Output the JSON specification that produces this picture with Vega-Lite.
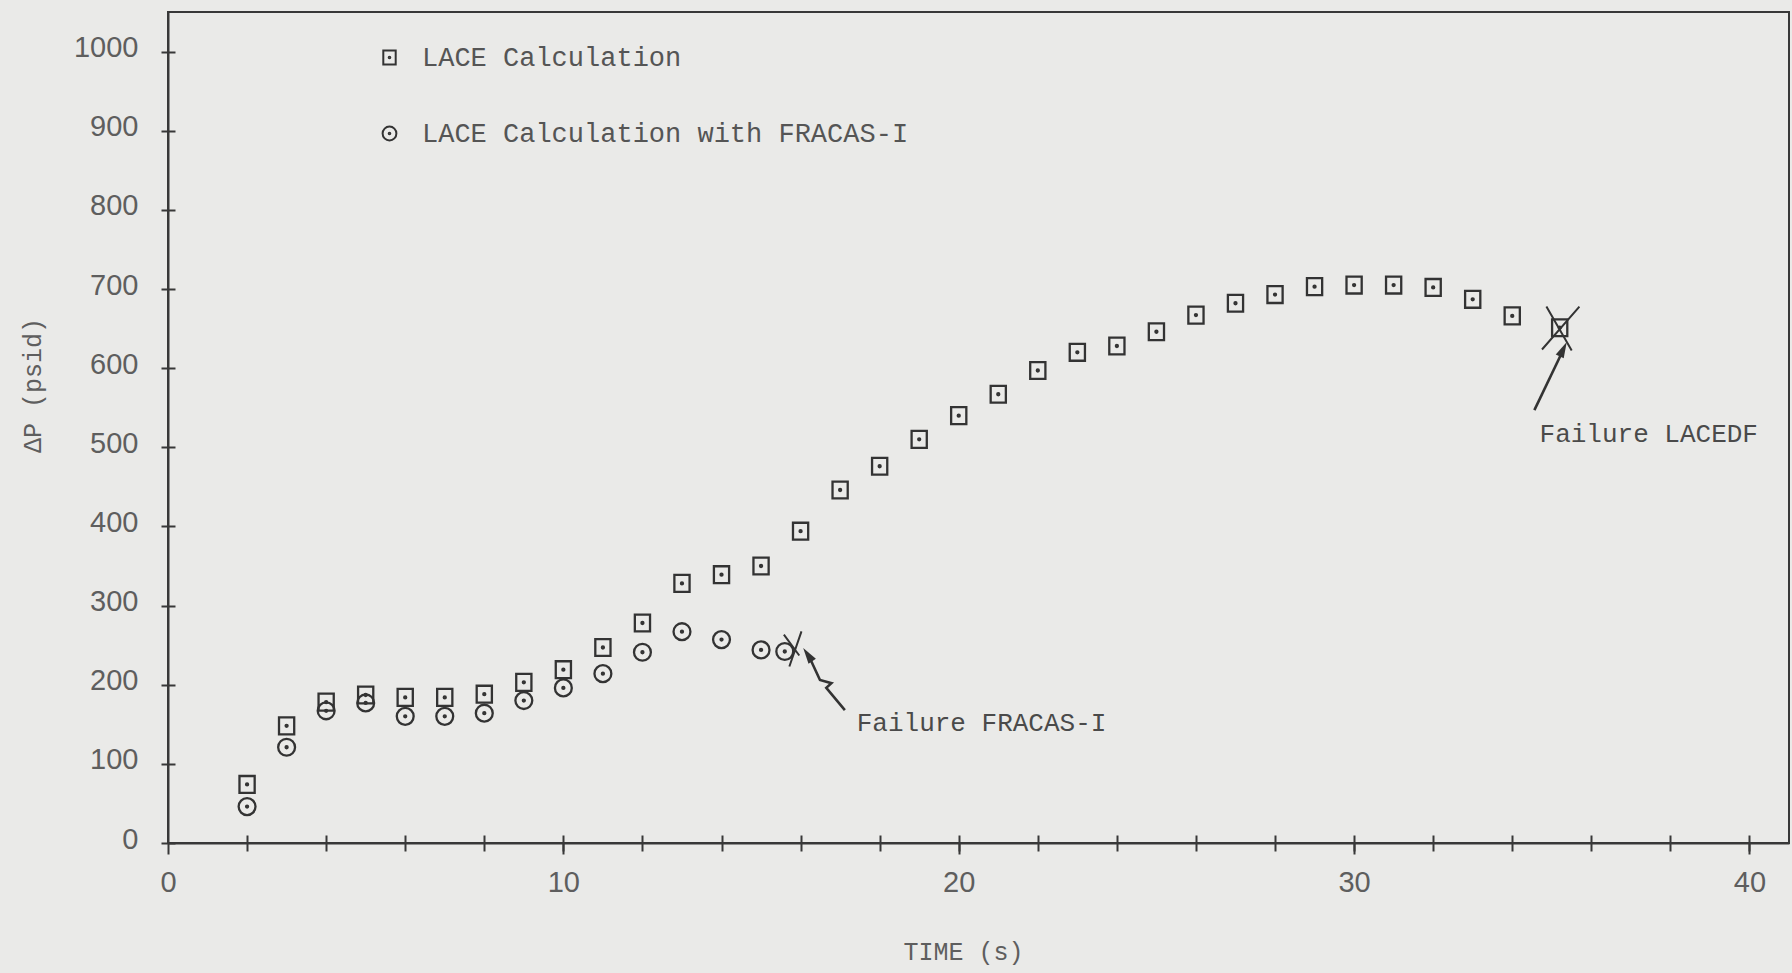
{
  "$schema": "https://vega.github.io/schema/vega-lite/v6.json",
  "width": 1621,
  "height": 831,
  "autosize": {"type": "none"},
  "padding": {"left": 168, "top": 12, "right": 3, "bottom": 130},
  "background": "#eaeae8",
  "config": {
    "view": {"stroke": "#383838", "strokeWidth": 2},
    "axis": {
      "grid": false,
      "domainColor": "#383838",
      "domainWidth": 2,
      "tickColor": "#383838",
      "tickWidth": 2,
      "labelFont": "Liberation Sans",
      "labelFontSize": 29,
      "labelColor": "#5e5e5e",
      "titleFont": "Liberation Mono",
      "titleFontSize": 25,
      "titleFontWeight": "normal",
      "titleColor": "#5e5e5e"
    },
    "legend": {
      "labelFont": "Liberation Mono",
      "labelFontSize": 27,
      "labelColor": "#555555",
      "labelLimit": 0
    }
  },
  "datasets": {
    "pts": [
      {"t": 2, "dp": 74, "s": "LACE Calculation"},
      {"t": 3, "dp": 148, "s": "LACE Calculation"},
      {"t": 4, "dp": 178, "s": "LACE Calculation"},
      {"t": 5, "dp": 187, "s": "LACE Calculation"},
      {"t": 6, "dp": 184, "s": "LACE Calculation"},
      {"t": 7, "dp": 184, "s": "LACE Calculation"},
      {"t": 8, "dp": 188, "s": "LACE Calculation"},
      {"t": 9, "dp": 203, "s": "LACE Calculation"},
      {"t": 10, "dp": 219, "s": "LACE Calculation"},
      {"t": 11, "dp": 247, "s": "LACE Calculation"},
      {"t": 12, "dp": 278, "s": "LACE Calculation"},
      {"t": 13, "dp": 328, "s": "LACE Calculation"},
      {"t": 14, "dp": 339, "s": "LACE Calculation"},
      {"t": 15, "dp": 350, "s": "LACE Calculation"},
      {"t": 16, "dp": 394, "s": "LACE Calculation"},
      {"t": 17, "dp": 446, "s": "LACE Calculation"},
      {"t": 18, "dp": 476, "s": "LACE Calculation"},
      {"t": 19, "dp": 510, "s": "LACE Calculation"},
      {"t": 20, "dp": 540, "s": "LACE Calculation"},
      {"t": 21, "dp": 567, "s": "LACE Calculation"},
      {"t": 22, "dp": 597, "s": "LACE Calculation"},
      {"t": 23, "dp": 620, "s": "LACE Calculation"},
      {"t": 24, "dp": 628, "s": "LACE Calculation"},
      {"t": 25, "dp": 646, "s": "LACE Calculation"},
      {"t": 26, "dp": 667, "s": "LACE Calculation"},
      {"t": 27, "dp": 682, "s": "LACE Calculation"},
      {"t": 28, "dp": 693, "s": "LACE Calculation"},
      {"t": 29, "dp": 703, "s": "LACE Calculation"},
      {"t": 30, "dp": 705, "s": "LACE Calculation"},
      {"t": 31, "dp": 705, "s": "LACE Calculation"},
      {"t": 32, "dp": 702, "s": "LACE Calculation"},
      {"t": 33, "dp": 687, "s": "LACE Calculation"},
      {"t": 34, "dp": 666, "s": "LACE Calculation"},
      {"t": 35.2, "dp": 651, "s": "LACE Calculation"},
      {"t": 2, "dp": 46, "s": "LACE Calculation with FRACAS-I"},
      {"t": 3, "dp": 121, "s": "LACE Calculation with FRACAS-I"},
      {"t": 4, "dp": 167, "s": "LACE Calculation with FRACAS-I"},
      {"t": 5, "dp": 177, "s": "LACE Calculation with FRACAS-I"},
      {"t": 6, "dp": 160, "s": "LACE Calculation with FRACAS-I"},
      {"t": 7, "dp": 160, "s": "LACE Calculation with FRACAS-I"},
      {"t": 8, "dp": 164, "s": "LACE Calculation with FRACAS-I"},
      {"t": 9, "dp": 180, "s": "LACE Calculation with FRACAS-I"},
      {"t": 10, "dp": 196, "s": "LACE Calculation with FRACAS-I"},
      {"t": 11, "dp": 214, "s": "LACE Calculation with FRACAS-I"},
      {"t": 12, "dp": 241, "s": "LACE Calculation with FRACAS-I"},
      {"t": 13, "dp": 267, "s": "LACE Calculation with FRACAS-I"},
      {"t": 14, "dp": 257, "s": "LACE Calculation with FRACAS-I"},
      {"t": 15, "dp": 244, "s": "LACE Calculation with FRACAS-I"},
      {"t": 15.6, "dp": 242, "s": "LACE Calculation with FRACAS-I"}
    ],
    "arrows": [
      {"a": "f", "i": 0, "t": 17.12, "dp": 168},
      {"a": "f", "i": 1, "t": 16.65, "dp": 196},
      {"a": "f", "i": 2, "t": 16.78, "dp": 202},
      {"a": "f", "i": 3, "t": 16.49, "dp": 206},
      {"a": "f", "i": 4, "t": 16.23, "dp": 234},
      {"a": "l", "i": 0, "t": 34.56, "dp": 547},
      {"a": "l", "i": 1, "t": 35.27, "dp": 621}
    ],
    "heads": [
      {"t": 16.18, "dp": 238, "ang": -34},
      {"t": 35.29, "dp": 624, "ang": 26}
    ],
    "crossF": [
      {"t": 15.8, "dp": 248}
    ],
    "crossL": [
      {"t": 35.17, "dp": 650}
    ],
    "notes": [
      {"t": 17.42, "dp": 152, "label": "Failure FRACAS-I"},
      {"t": 34.69, "dp": 517, "label": "Failure LACEDF"}
    ]
  },
  "resolve": {"axis": {"x": "independent", "y": "independent"}},
  "layer": [
    {
      "data": {"name": "pts"},
      "mark": {"type": "point", "filled": false, "strokeWidth": 2.3, "opacity": 1, "color": "#333333"},
      "encoding": {
        "x": {
          "field": "t", "type": "quantitative",
          "scale": {"domain": [0, 41], "nice": false, "zero": false},
          "axis": {"orient": "bottom", "values": [0, 10, 20, 30, 40], "tickSize": 11, "labelPadding": 14, "title": "TIME (s)", "titleX": 795, "titleY": 108, "titleBaseline": "middle", "titleAlign": "center", "labelFlush": false}
        },
        "y": {
          "field": "dp", "type": "quantitative",
          "scale": {"domain": [0, 1050], "nice": false, "zero": false},
          "axis": {"orient": "left", "format": "d", "values": [0, 100, 200, 300, 400, 500, 600, 700, 800, 900, 1000], "tickSize": 7, "labelPadding": 23, "labelOffset": -4, "title": "ΔP (psid)", "titleX": -136, "titleY": 373, "titleAngle": -90, "titleAlign": "center", "titleBaseline": "middle", "labelFlush": false}
        },
        "shape": {
          "field": "s", "type": "nominal",
          "scale": {
            "domain": ["LACE Calculation", "LACE Calculation with FRACAS-I"],
            "range": [
              "M-0.9,-1L0.9,-1L0.9,1L-0.9,1Z M-0.12,0A0.12,0.12 0 1 0 0.12,0A0.12,0.12 0 1 0 -0.12,0",
              "M-1,0A1,1 0 1 0 1,0A1,1 0 1 0 -1,0Z M-0.12,0A0.12,0.12 0 1 0 0.12,0A0.12,0.12 0 1 0 -0.12,0"
            ]
          },
          "legend": {
            "title": null, "orient": "none", "legendX": 208, "legendY": 32,
            "padding": 0, "rowPadding": 48, "labelOffset": 19, "symbolSize": 190,
            "symbolStrokeWidth": 2, "symbolStrokeColor": "#333333", "symbolType": "square"
          }
        },
        "size": {"value": 285}
      }
    },
    {
      "data": {"name": "arrows"},
      "mark": {"type": "line", "color": "#333333", "strokeWidth": 2.6},
      "encoding": {
        "x": {"field": "t", "type": "quantitative", "axis": {"orient": "bottom", "values": [2, 4, 6, 8, 10, 12, 14, 16, 18, 20, 22, 24, 26, 28, 30, 32, 34, 36, 38, 40], "tickSize": 8, "labels": false, "domain": false, "title": null}},
        "y": {"field": "dp", "type": "quantitative", "axis": {"orient": "left", "offset": -7, "values": [0, 100, 200, 300, 400, 500, 600, 700, 800, 900, 1000], "tickSize": 7, "labels": false, "domain": false, "title": null}},
        "detail": {"field": "a", "type": "nominal"},
        "order": {"field": "i", "type": "quantitative"}
      }
    },
    {
      "data": {"name": "heads"},
      "mark": {"type": "point", "filled": true, "color": "#333333", "opacity": 1, "shape": "M0,-1L0.55,1L-0.55,1Z", "size": 260},
      "encoding": {
        "x": {"field": "t", "type": "quantitative", "axis": {"orient": "bottom", "offset": -8, "values": [2, 4, 6, 8, 10, 12, 14, 16, 18, 20, 22, 24, 26, 28, 30, 32, 34, 36, 38, 40], "tickSize": 8, "labels": false, "domain": false, "title": null}},
        "y": {"field": "dp", "type": "quantitative", "axis": null},
        "angle": {"field": "ang", "type": "quantitative", "scale": null}
      }
    },
    {
      "data": {"name": "crossF"},
      "mark": {"type": "point", "filled": false, "color": "#333333", "opacity": 1, "strokeWidth": 2, "size": 1936, "shape": "M0.4,-0.7L-0.15,0.9M-0.4,-0.55L0.3,0.4"},
      "encoding": {
        "x": {"field": "t", "type": "quantitative", "axis": null},
        "y": {"field": "dp", "type": "quantitative", "axis": null}
      }
    },
    {
      "data": {"name": "crossL"},
      "mark": {"type": "point", "filled": false, "color": "#333333", "opacity": 1, "strokeWidth": 2, "size": 1936, "shape": "M-0.55,-1L0.6,1M0.95,-1L-0.75,0.95"},
      "encoding": {
        "x": {"field": "t", "type": "quantitative", "axis": null},
        "y": {"field": "dp", "type": "quantitative", "axis": null}
      }
    },
    {
      "data": {"name": "notes"},
      "mark": {"type": "text", "align": "left", "baseline": "middle", "font": "Liberation Mono", "fontSize": 26, "color": "#4a4a4a"},
      "encoding": {
        "x": {"field": "t", "type": "quantitative", "axis": null},
        "y": {"field": "dp", "type": "quantitative", "axis": null},
        "text": {"field": "label"}
      }
    }
  ]
}
